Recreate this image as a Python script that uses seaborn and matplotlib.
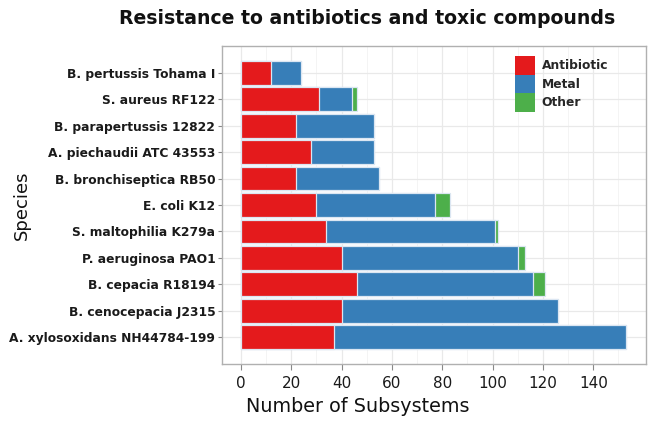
import matplotlib
matplotlib.use("Agg")
import matplotlib.pyplot as plt
from matplotlib.patches import Patch
from matplotlib.ticker import FixedLocator
import seaborn as sns
import pandas as pd

species = [
    "B. pertussis Tohama I",
    "S. aureus RF122",
    "B. parapertussis 12822",
    "A. piechaudii ATC 43553",
    "B. bronchiseptica RB50",
    "E. coli K12",
    "S. maltophilia K279a",
    "P. aeruginosa PAO1",
    "B. cepacia R18194",
    "B. cenocepacia J2315",
    "A. xylosoxidans NH44784-199",
]
antibiotic = [12, 31, 22, 28, 22, 30, 34, 40, 46, 40, 37]
metal = [12, 13, 31, 25, 33, 47, 67, 70, 70, 86, 116]
other = [0, 2, 0, 0, 0, 6, 1, 3, 5, 0, 0]
categories = ["Antibiotic", "Metal", "Other"]
colors = ["#E41A1C", "#377EB8", "#4DAF4A"]
xticks = [0, 20, 40, 60, 80, 100, 120, 140]

df = pd.DataFrame({"species": species, "Antibiotic": antibiotic,
                   "Metal": metal, "Other": other})
df["c1"] = df["Antibiotic"]
df["c2"] = df["Antibiotic"] + df["Metal"]
df["c3"] = df["c2"] + df["Other"]

sns.set_theme(style="white")
plt.rcParams["font.family"] = ["DejaVu Sans"]

fig = plt.figure(figsize=(6.53, 4.23), dpi=100)
ax = fig.add_axes([0.3404, 0.1395, 0.6484, 0.7518])

edge = "#dbe6f2"
for col, c in zip(["c3", "c2", "c1"], colors[::-1]):
    sns.barplot(data=df, y="species", x=col, order=species, color=c,
                orient="h", width=0.9, edgecolor=edge, linewidth=0.9,
                saturation=1, ax=ax, zorder=3)

ax.set_xlim(-7.4, 160.8)
ax.set_ylim(len(species) - 1 + 1.02, -1.02)
ax.xaxis.set_major_locator(FixedLocator(xticks))
ax.xaxis.set_minor_locator(FixedLocator([10, 30, 50, 70, 90, 110, 130, 150]))
ax.grid(True, which="major", color="#e9e9e9", linewidth=0.9, zorder=0)
ax.grid(True, which="minor", axis="x", color="#f2f2f2", linewidth=0.6, zorder=0)
ax.set_axisbelow(True)
for s in ax.spines.values():
    s.set_visible(True)
    s.set_color("#b0b0b0")
    s.set_linewidth(1.0)

ax.tick_params(axis="x", which="major", length=4, color="#888888", width=0.8,
               labelsize=11, labelcolor="#1a1a1a", pad=5, bottom=True)
ax.tick_params(axis="x", which="minor", length=0)
ax.tick_params(axis="y", length=3, color="#888888", width=0.8,
               labelsize=8.8, labelcolor="#1a1a1a", pad=2, left=True)
for lab in ax.get_yticklabels():
    lab.set_fontweight("bold")

ax.set_xlabel("Number of Subsystems", fontsize=13.8, color="#111111")
ax.xaxis.set_label_coords(0.32, -0.105)
ax.set_ylabel("Species", fontsize=13, color="#111111")
ax.yaxis.set_label_coords(-0.452, 0.5)

fig.text(0.562, 0.957, "Resistance to antibiotics and toxic compounds",
         ha="center", va="center", fontsize=13.6, fontweight="bold", color="#111111")

handles = [Patch(facecolor=c, edgecolor="none", label=l) for c, l in zip(colors, categories)]
leg = ax.legend(handles=handles, loc="upper right", bbox_to_anchor=(0.932, 0.995),
                frameon=False, fontsize=8.8, labelspacing=0.0,
                handlelength=1.6, handleheight=1.95, handletextpad=0.6,
                borderpad=0.2)
for t in leg.get_texts():
    t.set_fontweight("bold")

fig.savefig("out.png", dpi=100, facecolor="white")
